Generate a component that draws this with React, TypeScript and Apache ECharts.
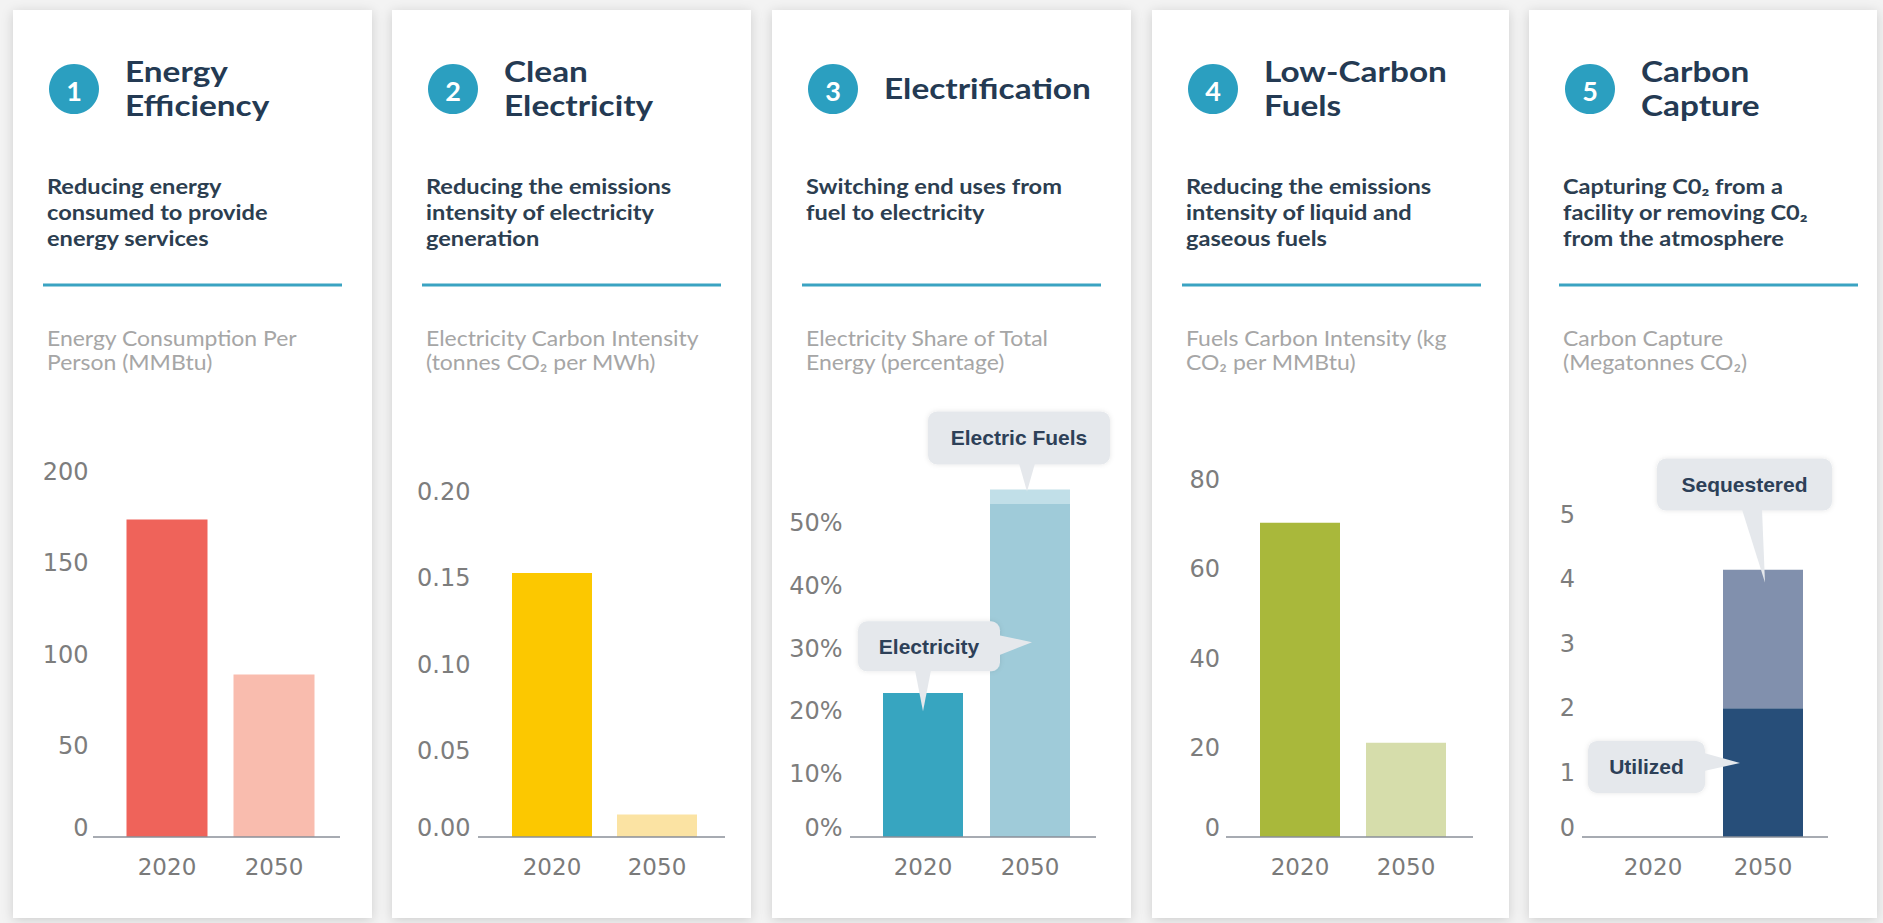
import React, { useEffect, useRef } from "react";
import * as echarts from "echarts";

// ---------- data ----------
const years = ["2020", "2050"];

const energyPerPerson = [174, 89];
const electricityCarbonIntensity = [0.153, 0.013];
const electricityShare = [22.9, 53];
const electricFuelsShare = [0, 2.3];
const fuelsCarbonIntensity = [70.4, 21.1];
const carbonUtilized = [0, 2.0];
const carbonSequestered = [0, 2.15];

const energyTicks = [0, 50, 100, 150, 200];
const intensityTicks = [0, 0.05, 0.1, 0.15, 0.2];
const shareTicks = [0, 10, 20, 30, 40, 50];
const fuelTicks = [0, 20, 40, 60, 80];
const captureTicks = [0, 1, 2, 3, 4, 5];

const panelNumbers = ["1", "2", "3", "4", "5"];
const panelTitles = [
  ["Energy", "Efficiency"],
  ["Clean", "Electricity"],
  ["Electrification"],
  ["Low-Carbon", "Fuels"],
  ["Carbon", "Capture"],
];
const panelSubtitles = [
  "Reducing energy\nconsumed to provide\nenergy services",
  "Reducing the emissions\nintensity of electricity\ngeneration",
  "Switching end uses from\nfuel to electricity",
  "Reducing the emissions\nintensity of liquid and\ngaseous fuels",
  "Capturing C0\u2082 from a\nfacility or removing C0\u2082\nfrom the atmosphere",
];
const panelMetrics = [
  "Energy Consumption Per\nPerson (MMBtu)",
  "Electricity Carbon Intensity\n(tonnes CO\u2082 per MWh)",
  "Electricity Share of Total\nEnergy (percentage)",
  "Fuels Carbon Intensity (kg\nCO\u2082 per MMBtu)",
  "Carbon Capture\n(Megatonnes CO\u2082)",
];

// ---------- layout / style ----------
const CARDS = [
  { x: 13, w: 359 },
  { x: 392, w: 359 },
  { x: 772, w: 359 },
  { x: 1152, w: 357 },
  { x: 1529, w: 348 },
];
const CARD_TOP = 10;
const CARD_H = 908;
const AXIS_Y = 837;
const GRIDS = [
  { left: 113.5, width: 214, top: 472, margin: 25, axis: [93, 340] },
  { left: 499.5, width: 210, top: 492, margin: 29, axis: [478, 725] },
  { left: 869.5, width: 214, top: 460, margin: 27, axis: [850, 1096] },
  { left: 1247, width: 212, top: 480, margin: 27, axis: [1226, 1473] },
  { left: 1598, width: 220, top: 515, margin: 23, axis: [1582, 1828] },
];
const TICKS = [energyTicks, intensityTicks, shareTicks, fuelTicks, captureTicks];
const AXIS_MAX_EXTRA = [0, 0, 1, 0, 0]; // extra hidden steps above last tick
const FORMATTERS = [
  (v: number) => String(v),
  (v: number) => v.toFixed(2),
  (v: number) => v + "%",
  (v: number) => String(v),
  (v: number) => String(v),
];

const TEAL = "#2b9fc0";
const NAVY = "#243a53";
const BOX = "#e5e8ec";

const callouts = [
  { id: "ef", grid: 2, cat: 1, value: 55, dx: -3, text: "Electric Fuels", box: [-99, -80, 182, 53], base: [[-8, -28], [8, -28]] },
  {
    id: "el", grid: 2, cat: 0, value: 20, dx: 0, text: "Electricity", box: [-65, -90, 142, 50], base: [[-8, -41], [8, -41]],
    extra: { cat: 1, value: 31, dx: 2, base: [[-33, -7], [-33, 13]] },
  },
  { id: "sq", grid: 4, cat: 1, value: 3.95, dx: 2, text: "Sequestered", box: [-108, -124, 175, 52], base: [[-23, -73], [-3, -73]] },
  { id: "ut", grid: 4, cat: 1, value: 1.15, dx: -23, text: "Utilized", box: [-152, -22, 117, 52], base: [[-36, -10], [-36, 8]] },
];

function buildStaticGraphics(): any[] {
  const els: any[] = [];
  CARDS.forEach((c, i) => {
    const x0 = c.x;
    els.push({
      type: "rect", id: `card${i}`, z: 0,
      shape: { x: c.x, y: CARD_TOP, width: c.w, height: CARD_H },
      style: { fill: "#ffffff", shadowBlur: 12, shadowColor: "rgba(0,0,0,0.16)", shadowOffsetY: 2 },
    });
    els.push({ type: "circle", id: `circ${i}`, z: 1, shape: { cx: x0 + 61, cy: 89, r: 25 }, style: { fill: TEAL } });
    els.push({
      type: "text", id: `num${i}`, z: 2, x: x0 + 61, y: 90,
      style: { text: panelNumbers[i], fill: "#ffffff", fontFamily: "Lato", fontWeight: "bold", fontSize: 27, align: "center", verticalAlign: "middle" },
    });
    const lines = panelTitles[i];
    const ys = lines.length === 1 ? [88] : [71, 105];
    lines.forEach((ln, k) => {
      els.push({
        type: "text", id: `title${i}_${k}`, z: 2, x: x0 + 112, y: ys[k], scaleX: 1.15,
        style: { text: ln, fill: NAVY, fontFamily: "Lato", fontWeight: "bold", fontSize: 29, align: "left", verticalAlign: "middle" },
      });
    });
    els.push({
      type: "text", id: `sub${i}`, z: 2, x: x0 + 34, y: 173, scaleX: 1.18,
      style: { text: panelSubtitles[i], fill: "#2c3e50", fontFamily: "Lato", fontWeight: "bold", fontSize: 20, lineHeight: 26, align: "left", verticalAlign: "top" },
    });
    els.push({
      type: "line", id: `div${i}`, z: 2,
      shape: { x1: x0 + 30, y1: 285, x2: x0 + 329, y2: 285 },
      style: { stroke: "#3aa3c2", lineWidth: 3 },
    });
    els.push({
      type: "text", id: `met${i}`, z: 2, x: x0 + 34, y: 326, scaleX: 1.12,
      style: { text: panelMetrics[i], fill: "#a6a6a6", fontFamily: "Lato", fontSize: 20.5, lineHeight: 24, align: "left", verticalAlign: "top" },
    });
    const g = GRIDS[i];
    els.push({
      type: "line", id: `base${i}`, z: 5,
      shape: { x1: g.axis[0], y1: AXIS_Y, x2: g.axis[1], y2: AXIS_Y },
      style: { stroke: "#8a8f98", lineWidth: 1.5 },
    });
  });
  return els;
}

function buildOption(): any {
  const grids = GRIDS.map((g) => ({
    left: g.left, top: g.top, width: g.width, height: AXIS_Y - g.top,
    containLabel: false, outerBoundsMode: "none",
  }));
  const xAxes = GRIDS.map((g, i) => ({
    type: "category", gridIndex: i, data: years,
    axisLine: { show: false }, axisTick: { show: false },
    axisLabel: { fontFamily: "DejaVu Sans", fontSize: 23, color: "#7a7a7a", margin: 18 },
  }));
  const yLabel = { fontFamily: "DejaVu Sans", fontSize: 24, color: "#7d7d7d" };
  const yAxes = GRIDS.map((g, i) => {
    const t = TICKS[i];
    const step = t[1] - t[0];
    const lastTick = t[t.length - 1];
    const max = lastTick + step * AXIS_MAX_EXTRA[i];
    return {
      type: "value", gridIndex: i, min: t[0], max, interval: step,
      axisLine: { show: false }, axisTick: { show: false }, splitLine: { show: false },
      axisLabel: {
        ...yLabel, margin: g.margin,
        formatter: (v: number) => {
          if (v > lastTick + step / 1000) return "";
          const s = FORMATTERS[i](v);
          return v === 0 ? `{z|${s}}` : s;
        },
        rich: { z: { ...yLabel, padding: [0, 0, 18, 0] } },
      },
    };
  });

  const colored = (vals: number[], colors: string[]) =>
    vals.map((v, k) => ({ value: v, itemStyle: { color: colors[k] } }));

  const series: any[] = [
    { type: "bar", name: "Energy Consumption", xAxisIndex: 0, yAxisIndex: 0, barWidth: 81, data: colored(energyPerPerson, ["#ef635a", "#f9bcae"]) },
    { type: "bar", name: "Electricity Carbon Intensity", xAxisIndex: 1, yAxisIndex: 1, barWidth: 80, data: colored(electricityCarbonIntensity, ["#fcc800", "#fbe3a3"]) },
    { type: "bar", name: "Electricity", stack: "share", xAxisIndex: 2, yAxisIndex: 2, barWidth: 80, data: colored(electricityShare, ["#37a5c0", "#9fcbd9"]) },
    { type: "bar", name: "Electric Fuels", stack: "share", xAxisIndex: 2, yAxisIndex: 2, barWidth: 80, itemStyle: { color: "#c1dfe8" }, data: electricFuelsShare },
    { type: "bar", name: "Fuels Carbon Intensity", xAxisIndex: 3, yAxisIndex: 3, barWidth: 80, data: colored(fuelsCarbonIntensity, ["#a9b83b", "#d6ddab"]) },
    { type: "bar", name: "Utilized", stack: "cc", xAxisIndex: 4, yAxisIndex: 4, barWidth: 80, itemStyle: { color: "#274e79" }, data: carbonUtilized },
    { type: "bar", name: "Sequestered", stack: "cc", xAxisIndex: 4, yAxisIndex: 4, barWidth: 80, itemStyle: { color: "#8190ad" }, data: carbonSequestered },
  ];

  return {
    animation: false,
    backgroundColor: "#f3f3f3",
    grid: grids,
    xAxis: xAxes,
    yAxis: yAxes,
    series,
    graphic: { elements: buildStaticGraphics() },
  };
}

function buildCallouts(chart: any): any[] {
  const els: any[] = [];
  callouts.forEach((c: any) => {
    const p = chart.convertToPixel({ gridIndex: c.grid }, [c.cat, c.value]);
    const tip = [p[0] + c.dx, p[1]];
    const bx = tip[0] + c.box[0];
    const by = tip[1] + c.box[1];
    els.push({
      type: "rect", id: `cb_${c.id}`, z: 10,
      shape: { x: bx, y: by, width: c.box[2], height: c.box[3], r: 9 },
      style: { fill: BOX, shadowBlur: 5, shadowColor: "rgba(0,0,0,0.10)" },
    });
    els.push({
      type: "polygon", id: `cp_${c.id}`, z: 11,
      shape: { points: [[tip[0] + c.base[0][0], tip[1] + c.base[0][1]], [tip[0] + c.base[1][0], tip[1] + c.base[1][1]], tip] },
      style: { fill: BOX },
    });
    if (c.extra) {
      const q = chart.convertToPixel({ gridIndex: c.grid }, [c.extra.cat, c.extra.value]);
      const t2 = [q[0] + c.extra.dx, q[1]];
      els.push({
        type: "polygon", id: `cpx_${c.id}`, z: 11,
        shape: { points: [[t2[0] + c.extra.base[0][0], t2[1] + c.extra.base[0][1]], [t2[0] + c.extra.base[1][0], t2[1] + c.extra.base[1][1]], t2] },
        style: { fill: BOX },
      });
    }
    els.push({
      type: "text", id: `ct_${c.id}`, z: 12,
      x: bx + c.box[2] / 2, y: by + c.box[3] / 2,
      style: { text: c.text, fill: "#2d4058", fontFamily: "Liberation Sans", fontWeight: "bold", fontSize: 21, align: "center", verticalAlign: "middle" },
    });
  });
  return els;
}

export default function App() {
  const ref = useRef<HTMLDivElement>(null);
  useEffect(() => {
    if (!ref.current) return;
    const chart = echarts.init(ref.current, undefined, { renderer: "svg" });
    const option = buildOption();
    chart.setOption(option);
    const all = [...buildStaticGraphics(), ...buildCallouts(chart)];
    chart.setOption({ graphic: { elements: all } });
    return () => chart.dispose();
  }, []);
  return (
    <div
      ref={ref}
      style={{ position: "absolute", left: 0, top: 0, width: 1883, height: 923 }}
    />
  );
}
